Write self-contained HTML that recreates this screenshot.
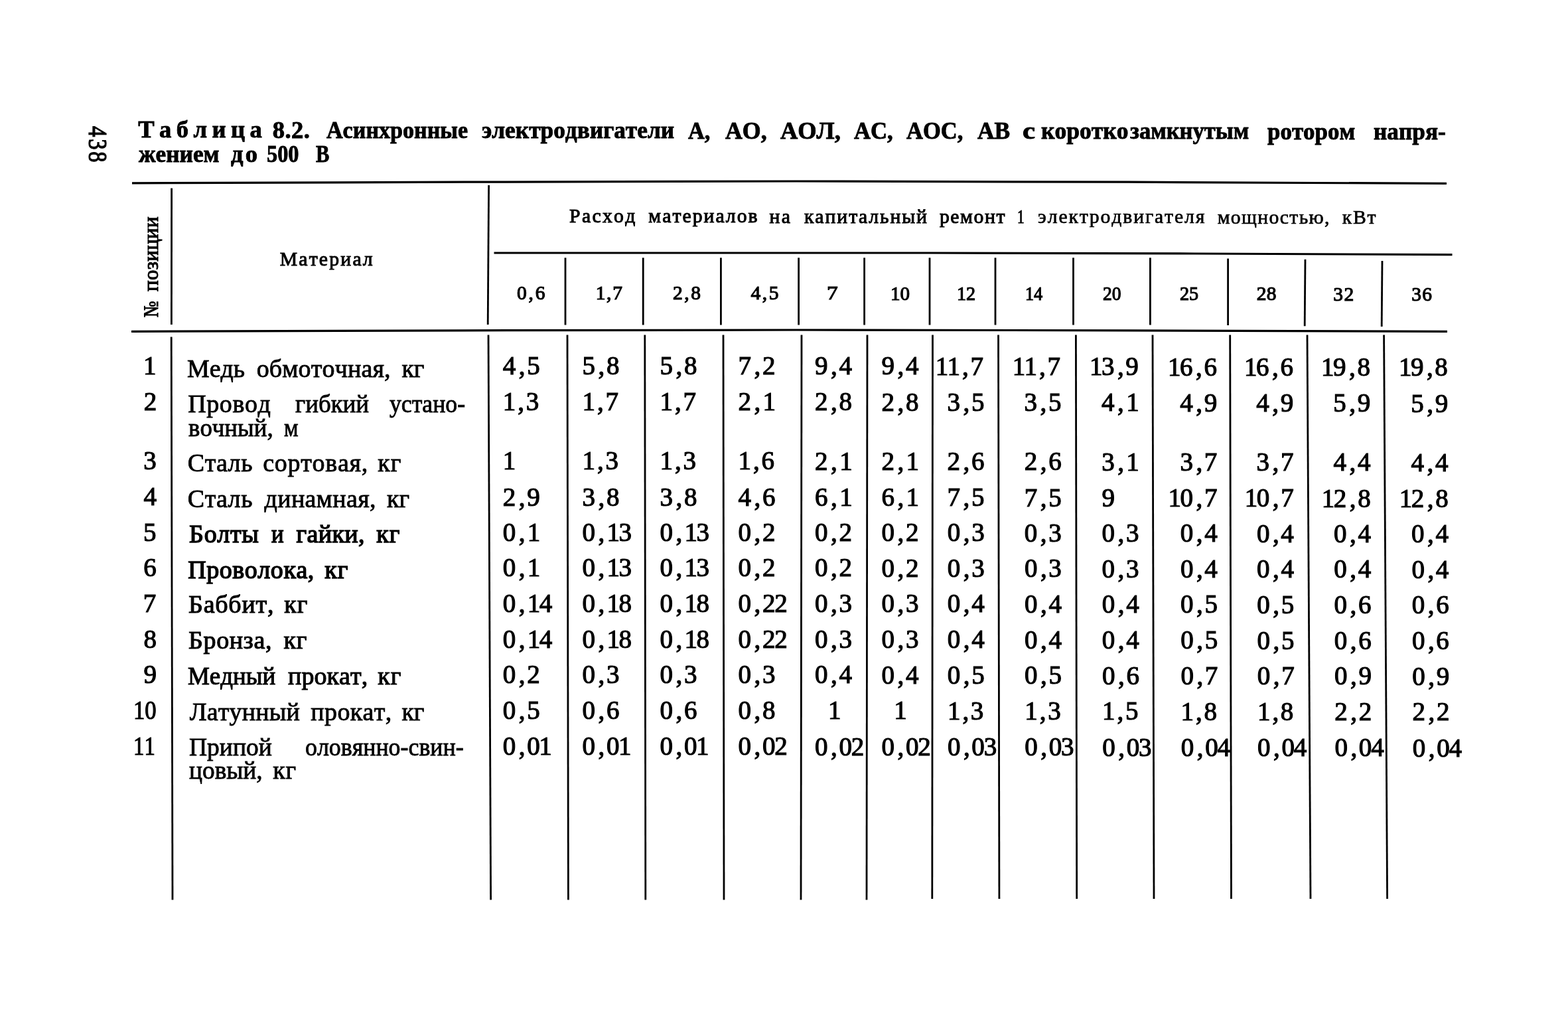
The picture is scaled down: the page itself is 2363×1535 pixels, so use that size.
<!DOCTYPE html>
<html lang="ru">
<head>
<meta charset="utf-8">
<title>Таблица 8.2</title>
<style>
html,body{margin:0;padding:0;background:#fff}
body{width:2363px;height:1535px;position:relative;overflow:hidden;color:#000;font-family:"Liberation Serif","DejaVu Serif",serif;font-kerning:none;font-variant-ligatures:none}
#page{position:absolute;left:0;top:0;width:2363px;height:1535px;overflow:hidden}
#rules{position:absolute;left:0;top:0}
#rules line,#rules polyline{stroke:#000;fill:none}
#page span{position:absolute;display:block;line-height:1;white-space:pre;transform-origin:0 0}
.title span{font-size:36.6px;font-weight:bold;-webkit-text-stroke:0.9px #000}
.hd span,.mat span{font-size:29.7px;-webkit-text-stroke:1px #000}
.hd .l{-webkit-text-stroke-width:0.7px}
.hn span{font-size:29.5px;-webkit-text-stroke:1.15px #000}
#page .rot{-webkit-text-stroke:1.1px #000}
#page .pg{-webkit-text-stroke-width:1.3px}
.tr span{font-size:38px;-webkit-text-stroke:0.85px #000}
.tr .m{-webkit-text-stroke-width:1.1px}
.tr .k{-webkit-text-stroke-width:1.4px}
#page .n{font-size:39px;letter-spacing:2.7px;-webkit-text-stroke:1.15px #000}
.n i{font-style:normal}
.n .a{letter-spacing:4.5px}
.n .b{letter-spacing:3px}
.n .c{letter-spacing:-1.2px}
.n .d{letter-spacing:-1.5px}
.n .e{letter-spacing:-1.4px}
.n .f{letter-spacing:-1.8px}
.n .g{letter-spacing:3.3px}
</style>
</head>
<body>
<div id="page">
<svg id="rules" width="2363" height="1535" viewBox="0 0 2363 1535">
<polyline points="199,275.8 700,274.2 1200,273 1700,274.2 2180,276.4" stroke-width="3.2"/>
<polyline points="744.5,381 1400,381 1800,382 2188.5,383.7" stroke-width="3.2"/>
<polyline points="198,499.3 700,497.8 1200,497 1700,497.8 2181,499.3" stroke-width="3.2"/>
<line x1="258.6" y1="283.6" x2="258.4" y2="489" stroke-width="2.8"/>
<line x1="736.6" y1="279" x2="735.2" y2="489" stroke-width="2.8"/>
<line x1="852" y1="388.3" x2="852" y2="489.5" stroke-width="2.8"/>
<line x1="969.2" y1="388.3" x2="969.2" y2="489.5" stroke-width="2.8"/>
<line x1="1086.4" y1="388.3" x2="1086.4" y2="489.5" stroke-width="2.8"/>
<line x1="1203.6" y1="388.3" x2="1203.6" y2="489.5" stroke-width="2.8"/>
<line x1="1302.6" y1="388.3" x2="1302.6" y2="489.5" stroke-width="2.8"/>
<line x1="1401" y1="388.3" x2="1401" y2="489.5" stroke-width="2.8"/>
<line x1="1500" y1="388.3" x2="1500" y2="489.5" stroke-width="2.8"/>
<line x1="1617.5" y1="388.3" x2="1617.5" y2="489.5" stroke-width="2.8"/>
<line x1="1733.4" y1="388.3" x2="1733.4" y2="489.5" stroke-width="2.8"/>
<line x1="1850.6" y1="389.5" x2="1850.6" y2="490" stroke-width="2.8"/>
<line x1="1967" y1="390.8" x2="1966.2" y2="491.3" stroke-width="2.8"/>
<line x1="2083" y1="393" x2="2082.2" y2="492" stroke-width="2.8"/>
<line x1="258.2" y1="507.5" x2="260" y2="1355.5" stroke-width="2.8"/>
<line x1="736" y1="504.5" x2="739.6" y2="1355.5" stroke-width="2.8"/>
<line x1="855" y1="504.5" x2="856.4" y2="1355.5" stroke-width="2.8"/>
<line x1="971.8" y1="504.5" x2="972.8" y2="1355.5" stroke-width="2.8"/>
<line x1="1090" y1="504.5" x2="1091" y2="1355.5" stroke-width="2.8"/>
<line x1="1208" y1="504.5" x2="1207" y2="1355.5" stroke-width="2.8"/>
<line x1="1307" y1="504.5" x2="1306" y2="1355.5" stroke-width="2.8"/>
<line x1="1405.5" y1="504.5" x2="1404.8" y2="1354" stroke-width="2.8"/>
<line x1="1504.5" y1="504.5" x2="1505.9" y2="1354" stroke-width="2.8"/>
<line x1="1621.4" y1="504.5" x2="1622.7" y2="1354" stroke-width="2.8"/>
<line x1="1737" y1="504.5" x2="1739" y2="1354" stroke-width="2.8"/>
<line x1="1853.7" y1="504.5" x2="1855.5" y2="1354" stroke-width="2.8"/>
<line x1="1970" y1="504.5" x2="1975" y2="1354" stroke-width="2.8"/>
<line x1="2085.6" y1="504.5" x2="2090.6" y2="1354" stroke-width="2.8"/>
</svg>
<div class="pgnum"><span class="rot pg" style="left:133.2px;top:189.7px;font-size:40.5px;letter-spacing:3.73px;transform:rotate(90deg) scaleX(0.8) translateY(-33.92px);">438</span></div>
<div class="title">
<span style="left:208.3px;top:177.3px;letter-spacing:7.42px;">Таблица</span> <span style="left:410.8px;top:177.6px;letter-spacing:0.44px;">8.2.</span> <span style="left:491.7px;top:177.7px;transform:scaleX(0.932);">Асинхронные</span> <span style="left:725.8px;top:178.1px;transform:scaleX(0.966);">электродвигатели</span> <span style="left:1037.4px;top:178.5px;transform:scaleX(0.94);">А,</span> <span style="left:1093.3px;top:178.6px;transform:scaleX(0.978);">АО,</span> <span style="left:1175.6px;top:178.7px;transform:scaleX(0.994);">АОЛ,</span> <span style="left:1287.3px;top:178.8px;transform:scaleX(0.948);">АС,</span> <span style="left:1366px;top:178.9px;transform:scaleX(0.943);">АОС,</span> <span style="left:1472.7px;top:179.1px;transform:scaleX(0.97);">АВ</span> <span style="left:1541.3px;top:179.2px;transform:scaleX(1.172);">с</span> <span style="left:1568.7px;top:179.2px;transform:scaleX(0.972);">коротко</span><span style="left:1703.4px;top:179.4px;transform:scaleX(0.944);">замкнутым</span> <span style="left:1910.4px;top:179.7px;transform:scaleX(0.955);">ротором</span> <span style="left:2069.8px;top:179.9px;transform:scaleX(0.965);">напря-</span>
<span style="left:208.8px;top:214.1px;transform:scaleX(0.965);">жением</span> <span style="left:348.1px;top:214.1px;letter-spacing:3.13px;">до</span> <span style="left:401.7px;top:214.1px;transform:scaleX(0.884);">500</span> <span style="left:476.3px;top:214.1px;transform:scaleX(0.834);">В</span>
</div>
<div class="thead">
<div class="pos"><span class="rot" style="left:238.3px;top:478.4px;font-size:31px;transform:rotate(-90deg) scaleX(0.829) translateY(-25.96px);">№</span> <span class="rot" style="left:238.3px;top:438.6px;font-size:31px;letter-spacing:0.32px;transform:rotate(-90deg) scaleX(1) translateY(-25.96px);">позиции</span></div>
<div class="mat"><span style="left:421.7px;top:376.1px;letter-spacing:2.21px;">Материал</span></div>
<div class="hd"><span style="left:858.1px;top:311.2px;letter-spacing:2.33px;">Расход</span> <span style="left:977.3px;top:311.4px;letter-spacing:2.07px;">материалов</span> <span style="left:1159.5px;top:311.7px;letter-spacing:2.37px;">на</span> <span style="left:1212px;top:311.8px;letter-spacing:1.94px;">капитальный</span> <span style="left:1415.9px;top:312.1px;letter-spacing:1.59px;">ремонт</span> <span style="left:1532.6px;top:312.3px;transform:scaleX(0.717);">1</span> <span class="l" style="left:1564px;top:312.3px;letter-spacing:1.91px;">электродвигателя</span> <span class="l" style="left:1834.7px;top:312.8px;letter-spacing:1.37px;">мощностью,</span> <span class="l" style="left:2022.8px;top:313px;letter-spacing:1.73px;">кВт</span></div>
<div class="hn"><span style="left:778.9px;top:427.4px;letter-spacing:2.86px;">0,6</span> <span style="left:897.7px;top:427.4px;letter-spacing:1.68px;">1,7</span> <span style="left:1013.9px;top:427.4px;letter-spacing:2.67px;">2,8</span> <span style="left:1131.5px;top:427.4px;letter-spacing:2.58px;">4,5</span> <span style="left:1245.9px;top:427.4px;transform:scaleX(1.129);">7</span> <span style="left:1342px;top:427.5px;transform:scaleX(0.985);">10</span> <span style="left:1441.8px;top:427.6px;transform:scaleX(0.953);">12</span> <span style="left:1544.7px;top:427.8px;transform:scaleX(0.889);">14</span> <span style="left:1661.5px;top:428px;transform:scaleX(0.934);">20</span> <span style="left:1778.4px;top:428.1px;transform:scaleX(0.957);">25</span> <span style="left:1893.7px;top:428.3px;letter-spacing:0.42px;">28</span> <span style="left:2009.2px;top:428.5px;letter-spacing:1.54px;">32</span> <span style="left:2127.3px;top:428.7px;letter-spacing:1.09px;">36</span></div>
</div>
<div class="tbody">
<div class="tr"><span class="n" style="left:215.9px;top:530.8px;letter-spacing:0">1</span>
<span style="left:282.2px;top:535.8px;transform:scaleX(0.997);">Медь</span> <span style="left:386.7px;top:535.8px;letter-spacing:0.16px;">обмоточная,</span> <span style="left:605.4px;top:535.8px;letter-spacing:0.02px;">кг</span>
<span class="n" style="left:757.8px;top:531px"><i class="a">4</i>,5</span>
<span class="n" style="left:877.5px;top:531px"><i class="a">5</i>,8</span>
<span class="n" style="left:994.5px;top:531px"><i class="a">5</i>,8</span>
<span class="n" style="left:1112.5px;top:531px"><i class="a">7</i>,2</span>
<span class="n" style="left:1228.1px;top:531.1px"><i class="a">9</i>,4</span>
<span class="n" style="left:1328.5px;top:531.4px"><i class="a">9</i>,4</span>
<span class="n" style="left:1409.8px;top:531.6px"><i class="f">1</i><i class="b">1</i>,7</span>
<span class="n" style="left:1525.8px;top:531.9px"><i class="f">1</i><i class="b">1</i>,7</span>
<span class="n" style="left:1641.9px;top:532.2px"><i class="d">1</i><i class="a">3</i>,9</span>
<span class="n" style="left:1760px;top:532.5px"><i class="d">1</i><i class="a">6</i>,6</span>
<span class="n" style="left:1875px;top:532.8px"><i class="d">1</i><i class="a">6</i>,6</span>
<span class="n" style="left:1991px;top:533px"><i class="d">1</i><i class="a">9</i>,8</span>
<span class="n" style="left:2107.9px;top:533.3px"><i class="d">1</i><i class="a">9</i>,8</span></div>
<div class="tr"><span class="n" style="left:216.7px;top:585px;letter-spacing:0">2</span>
<span style="left:283.2px;top:589.1px;letter-spacing:0.61px;">Провод</span> <span style="left:444.5px;top:589.1px;transform:scaleX(0.971);">гибкий</span> <span style="left:586.7px;top:589.1px;transform:scaleX(0.94);">устано-</span>
<span style="left:283.6px;top:625.3px;transform:scaleX(0.969);">вочный,</span> <span style="left:428.2px;top:625.3px;transform:scaleX(0.897);">м</span>
<span class="n" style="left:757.8px;top:585.2px"><i class="b">1</i>,3</span>
<span class="n" style="left:877.5px;top:585.2px"><i class="b">1</i>,7</span>
<span class="n" style="left:994.5px;top:585.2px"><i class="b">1</i>,7</span>
<span class="n" style="left:1112.5px;top:585.2px"><i class="a">2</i><i class="g">,</i>1</span>
<span class="n" style="left:1228.1px;top:585.3px"><i class="a">2</i>,8</span>
<span class="n" style="left:1328.5px;top:585.6px"><i class="a">2</i>,8</span>
<span class="n" style="left:1427.5px;top:585.8px"><i class="a">3</i>,5</span>
<span class="n" style="left:1543.5px;top:586.1px"><i class="a">3</i>,5</span>
<span class="n" style="left:1660.1px;top:586.4px"><i class="a">4</i><i class="g">,</i>1</span>
<span class="n" style="left:1778.2px;top:586.7px"><i class="a">4</i>,9</span>
<span class="n" style="left:1893.2px;top:587px"><i class="a">4</i>,9</span>
<span class="n" style="left:2009.2px;top:587.2px"><i class="a">5</i>,9</span>
<span class="n" style="left:2126.2px;top:587.5px"><i class="a">5</i>,9</span></div>
<div class="tr"><span class="n" style="left:216.3px;top:674.2px;letter-spacing:0">3</span>
<span style="left:282.7px;top:678.2px;letter-spacing:0.7px;">Сталь</span> <span style="left:396.2px;top:678.2px;letter-spacing:0.72px;">сортовая,</span> <span style="left:569.2px;top:678.2px;letter-spacing:1.02px;">кг</span>
<span class="n" style="left:757.8px;top:674.4px">1</span>
<span class="n" style="left:877.5px;top:674.4px"><i class="b">1</i>,3</span>
<span class="n" style="left:994.5px;top:674.4px"><i class="b">1</i>,3</span>
<span class="n" style="left:1112.5px;top:674.4px"><i class="b">1</i>,6</span>
<span class="n" style="left:1228.1px;top:674.5px"><i class="a">2</i><i class="g">,</i>1</span>
<span class="n" style="left:1328.5px;top:674.8px"><i class="a">2</i><i class="g">,</i>1</span>
<span class="n" style="left:1427.6px;top:675px"><i class="a">2</i>,6</span>
<span class="n" style="left:1543.7px;top:675.3px"><i class="a">2</i>,6</span>
<span class="n" style="left:1660.3px;top:675.6px"><i class="a">3</i><i class="g">,</i>1</span>
<span class="n" style="left:1778.4px;top:675.9px"><i class="a">3</i>,7</span>
<span class="n" style="left:1893.5px;top:676.2px"><i class="a">3</i>,7</span>
<span class="n" style="left:2009.6px;top:676.4px"><i class="a">4</i>,4</span>
<span class="n" style="left:2126.6px;top:676.7px"><i class="a">4</i>,4</span></div>
<div class="tr"><span class="n" style="left:216.4px;top:728.4px;letter-spacing:0">4</span>
<span style="left:282.7px;top:732px;letter-spacing:0.7px;">Сталь</span> <span style="left:398.5px;top:732px;letter-spacing:0.37px;">динамная,</span> <span style="left:582.6px;top:732px;transform:scaleX(0.998);">кг</span>
<span class="n" style="left:757.8px;top:728.6px"><i class="a">2</i>,9</span>
<span class="n" style="left:877.5px;top:728.6px"><i class="a">3</i>,8</span>
<span class="n" style="left:994.5px;top:728.6px"><i class="a">3</i>,8</span>
<span class="n" style="left:1112.5px;top:728.6px"><i class="a">4</i>,6</span>
<span class="n" style="left:1228.1px;top:728.7px"><i class="a">6</i><i class="g">,</i>1</span>
<span class="n" style="left:1328.5px;top:729px"><i class="a">6</i><i class="g">,</i>1</span>
<span class="n" style="left:1427.6px;top:729.2px"><i class="a">7</i>,5</span>
<span class="n" style="left:1543.8px;top:729.5px"><i class="a">7</i>,5</span>
<span class="n" style="left:1660.4px;top:729.8px">9</span>
<span class="n" style="left:1760.6px;top:730.1px"><i class="d">1</i><i class="a">0</i>,7</span>
<span class="n" style="left:1875.7px;top:730.4px"><i class="d">1</i><i class="a">0</i>,7</span>
<span class="n" style="left:1991.8px;top:730.6px"><i class="d">1</i><i class="a">2</i>,8</span>
<span class="n" style="left:2108.8px;top:730.9px"><i class="d">1</i><i class="a">2</i>,8</span></div>
<div class="tr"><span class="n" style="left:216.1px;top:781.6px;letter-spacing:0">5</span>
<span class="k" style="left:285.1px;top:785.3px;letter-spacing:0.72px;">Болты</span> <span class="k" style="left:409.4px;top:785.3px;transform:scaleX(0.912);">и</span> <span class="k" style="left:446.4px;top:785.3px;letter-spacing:0.4px;">гайки,</span> <span class="k" style="left:567.3px;top:785.3px;letter-spacing:1.02px;">кг</span>
<span class="n" style="left:757.8px;top:781.8px"><i class="a">0</i><i class="g">,</i>1</span>
<span class="n" style="left:877.5px;top:781.8px"><i class="a">0</i><i class="g">,</i><i class="d">1</i>3</span>
<span class="n" style="left:994.5px;top:781.8px"><i class="a">0</i><i class="g">,</i><i class="d">1</i>3</span>
<span class="n" style="left:1112.5px;top:781.8px"><i class="a">0</i>,2</span>
<span class="n" style="left:1228.1px;top:781.9px"><i class="a">0</i>,2</span>
<span class="n" style="left:1328.5px;top:782.2px"><i class="a">0</i>,2</span>
<span class="n" style="left:1427.7px;top:782.4px"><i class="a">0</i>,3</span>
<span class="n" style="left:1543.8px;top:782.7px"><i class="a">0</i>,3</span>
<span class="n" style="left:1660.5px;top:783px"><i class="a">0</i>,3</span>
<span class="n" style="left:1778.8px;top:783.3px"><i class="a">0</i>,4</span>
<span class="n" style="left:1893.9px;top:783.6px"><i class="a">0</i>,4</span>
<span class="n" style="left:2010.1px;top:783.8px"><i class="a">0</i>,4</span>
<span class="n" style="left:2127.1px;top:784.1px"><i class="a">0</i>,4</span></div>
<div class="tr"><span class="n" style="left:216.2px;top:835.1px;letter-spacing:0">6</span>
<span class="k" style="left:283.2px;top:838.7px;letter-spacing:0.55px;">Проволока,</span> <span class="k" style="left:489.3px;top:838.7px;letter-spacing:0.92px;">кг</span>
<span class="n" style="left:757.8px;top:835.3px"><i class="a">0</i><i class="g">,</i>1</span>
<span class="n" style="left:877.5px;top:835.3px"><i class="a">0</i><i class="g">,</i><i class="d">1</i>3</span>
<span class="n" style="left:994.5px;top:835.3px"><i class="a">0</i><i class="g">,</i><i class="d">1</i>3</span>
<span class="n" style="left:1112.5px;top:835.3px"><i class="a">0</i>,2</span>
<span class="n" style="left:1228.1px;top:835.4px"><i class="a">0</i>,2</span>
<span class="n" style="left:1328.5px;top:835.7px"><i class="a">0</i>,2</span>
<span class="n" style="left:1427.7px;top:835.9px"><i class="a">0</i>,3</span>
<span class="n" style="left:1543.9px;top:836.2px"><i class="a">0</i>,3</span>
<span class="n" style="left:1660.6px;top:836.5px"><i class="a">0</i>,3</span>
<span class="n" style="left:1778.9px;top:836.8px"><i class="a">0</i>,4</span>
<span class="n" style="left:1894.1px;top:837.1px"><i class="a">0</i>,4</span>
<span class="n" style="left:2010.3px;top:837.3px"><i class="a">0</i>,4</span>
<span class="n" style="left:2127.4px;top:837.6px"><i class="a">0</i>,4</span></div>
<div class="tr"><span class="n" style="left:215.7px;top:888.5px;letter-spacing:0">7</span>
<span class="m" style="left:284.1px;top:891.4px;letter-spacing:0.75px;">Баббит,</span> <span class="m" style="left:428.3px;top:891.4px;letter-spacing:0.92px;">кг</span>
<span class="n" style="left:757.8px;top:888.7px"><i class="a">0</i><i class="g">,</i><i class="d">1</i>4</span>
<span class="n" style="left:877.5px;top:888.7px"><i class="a">0</i><i class="g">,</i><i class="d">1</i>8</span>
<span class="n" style="left:994.5px;top:888.7px"><i class="a">0</i><i class="g">,</i><i class="d">1</i>8</span>
<span class="n" style="left:1112.5px;top:888.7px"><i class="a">0</i>,<i class="c">2</i>2</span>
<span class="n" style="left:1228.1px;top:888.8px"><i class="a">0</i>,3</span>
<span class="n" style="left:1328.6px;top:889.1px"><i class="a">0</i>,3</span>
<span class="n" style="left:1427.8px;top:889.3px"><i class="a">0</i>,4</span>
<span class="n" style="left:1544px;top:889.6px"><i class="a">0</i>,4</span>
<span class="n" style="left:1660.7px;top:889.9px"><i class="a">0</i>,4</span>
<span class="n" style="left:1779.1px;top:890.2px"><i class="a">0</i>,5</span>
<span class="n" style="left:1894.3px;top:890.5px"><i class="a">0</i>,5</span>
<span class="n" style="left:2010.5px;top:890.7px"><i class="a">0</i>,6</span>
<span class="n" style="left:2127.7px;top:891px"><i class="a">0</i>,6</span></div>
<div class="tr"><span class="n" style="left:216.4px;top:942.5px;letter-spacing:0">8</span>
<span class="m" style="left:284.1px;top:945.3px;letter-spacing:0.64px;">Бронза,</span> <span class="m" style="left:427.4px;top:945.3px;letter-spacing:0.92px;">кг</span>
<span class="n" style="left:757.8px;top:942.7px"><i class="a">0</i><i class="g">,</i><i class="d">1</i>4</span>
<span class="n" style="left:877.5px;top:942.7px"><i class="a">0</i><i class="g">,</i><i class="d">1</i>8</span>
<span class="n" style="left:994.5px;top:942.7px"><i class="a">0</i><i class="g">,</i><i class="d">1</i>8</span>
<span class="n" style="left:1112.5px;top:942.7px"><i class="a">0</i>,<i class="c">2</i>2</span>
<span class="n" style="left:1228.1px;top:942.8px"><i class="a">0</i>,3</span>
<span class="n" style="left:1328.6px;top:943.1px"><i class="a">0</i>,3</span>
<span class="n" style="left:1427.8px;top:943.3px"><i class="a">0</i>,4</span>
<span class="n" style="left:1544.1px;top:943.6px"><i class="a">0</i>,4</span>
<span class="n" style="left:1660.8px;top:943.9px"><i class="a">0</i>,4</span>
<span class="n" style="left:1779.2px;top:944.2px"><i class="a">0</i>,5</span>
<span class="n" style="left:1894.5px;top:944.5px"><i class="a">0</i>,5</span>
<span class="n" style="left:2010.8px;top:944.7px"><i class="a">0</i>,6</span>
<span class="n" style="left:2127.9px;top:945px"><i class="a">0</i>,6</span></div>
<div class="tr"><span class="n" style="left:216.6px;top:996.1px;letter-spacing:0">9</span>
<span class="m" style="left:283.2px;top:998.6px;transform:scaleX(0.972);">Медный</span> <span class="m" style="left:434px;top:998.6px;letter-spacing:0.07px;">прокат,</span> <span class="m" style="left:569.2px;top:998.6px;letter-spacing:1.02px;">кг</span>
<span class="n" style="left:757.8px;top:996.3px"><i class="a">0</i>,2</span>
<span class="n" style="left:877.5px;top:996.3px"><i class="a">0</i>,3</span>
<span class="n" style="left:994.5px;top:996.3px"><i class="a">0</i>,3</span>
<span class="n" style="left:1112.5px;top:996.3px"><i class="a">0</i>,3</span>
<span class="n" style="left:1228.1px;top:996.4px"><i class="a">0</i>,4</span>
<span class="n" style="left:1328.6px;top:996.7px"><i class="a">0</i>,4</span>
<span class="n" style="left:1427.8px;top:996.9px"><i class="a">0</i>,5</span>
<span class="n" style="left:1544.1px;top:997.2px"><i class="a">0</i>,5</span>
<span class="n" style="left:1661px;top:997.5px"><i class="a">0</i>,6</span>
<span class="n" style="left:1779.4px;top:997.8px"><i class="a">0</i>,7</span>
<span class="n" style="left:1894.7px;top:998.1px"><i class="a">0</i>,7</span>
<span class="n" style="left:2011px;top:998.3px"><i class="a">0</i>,9</span>
<span class="n" style="left:2128.2px;top:998.6px"><i class="a">0</i>,9</span></div>
<div class="tr"><span class="n" style="left:201.3px;top:1049.8px;letter-spacing:0px;transform:scaleX(0.889);">10</span>
<span style="left:285.8px;top:1052.5px;letter-spacing:0.17px;">Латунный</span> <span style="left:468.3px;top:1052.5px;letter-spacing:0.38px;">прокат,</span> <span style="left:605.4px;top:1052.5px;letter-spacing:0.02px;">кг</span>
<span class="n" style="left:757.8px;top:1050px"><i class="a">0</i>,5</span>
<span class="n" style="left:877.5px;top:1050px"><i class="a">0</i>,6</span>
<span class="n" style="left:994.5px;top:1050px"><i class="a">0</i>,6</span>
<span class="n" style="left:1112.5px;top:1050px"><i class="a">0</i>,8</span>
<span class="n" style="left:1247.9px;top:1050.1px">1</span>
<span class="n" style="left:1347.3px;top:1050.4px">1</span>
<span class="n" style="left:1427.9px;top:1050.6px"><i class="b">1</i>,3</span>
<span class="n" style="left:1544.2px;top:1050.9px"><i class="b">1</i>,3</span>
<span class="n" style="left:1661.1px;top:1051.2px"><i class="b">1</i>,5</span>
<span class="n" style="left:1779.5px;top:1051.5px"><i class="b">1</i>,8</span>
<span class="n" style="left:1894.9px;top:1051.8px"><i class="b">1</i>,8</span>
<span class="n" style="left:2011.2px;top:1052px"><i class="a">2</i>,2</span>
<span class="n" style="left:2128.5px;top:1052.3px"><i class="a">2</i>,2</span></div>
<div class="tr"><span class="n" style="left:201.4px;top:1104.2px;letter-spacing:0px;transform:scaleX(0.84);">11</span>
<span style="left:285.1px;top:1105.8px;transform:scaleX(0.987);">Припой</span> <span style="left:460px;top:1105.8px;transform:scaleX(0.944);">оловянно-свин-</span>
<span style="left:284.5px;top:1140.6px;transform:scaleX(0.982);">цовый,</span> <span style="left:411.2px;top:1140.6px;letter-spacing:0.92px;">кг</span>
<span class="n" style="left:757.8px;top:1104.4px"><i class="a">0</i>,<i class="e">0</i>1</span>
<span class="n" style="left:877.5px;top:1104.4px"><i class="a">0</i>,<i class="e">0</i>1</span>
<span class="n" style="left:994.5px;top:1104.4px"><i class="a">0</i>,<i class="e">0</i>1</span>
<span class="n" style="left:1112.5px;top:1104.4px"><i class="a">0</i>,<i class="c">0</i>2</span>
<span class="n" style="left:1228.1px;top:1104.5px"><i class="a">0</i>,<i class="c">0</i>2</span>
<span class="n" style="left:1328.6px;top:1104.8px"><i class="a">0</i>,<i class="c">0</i>2</span>
<span class="n" style="left:1427.9px;top:1105px"><i class="a">0</i>,<i class="c">0</i>3</span>
<span class="n" style="left:1544.3px;top:1105.3px"><i class="a">0</i>,<i class="c">0</i>3</span>
<span class="n" style="left:1661.2px;top:1105.6px"><i class="a">0</i>,<i class="c">0</i>3</span>
<span class="n" style="left:1779.7px;top:1105.9px"><i class="a">0</i>,<i class="c">0</i>4</span>
<span class="n" style="left:1895.1px;top:1106.2px"><i class="a">0</i>,<i class="c">0</i>4</span>
<span class="n" style="left:2011.4px;top:1106.4px"><i class="a">0</i>,<i class="c">0</i>4</span>
<span class="n" style="left:2128.7px;top:1106.7px"><i class="a">0</i>,<i class="c">0</i>4</span></div>
</div>
</div>
</body>
</html>
